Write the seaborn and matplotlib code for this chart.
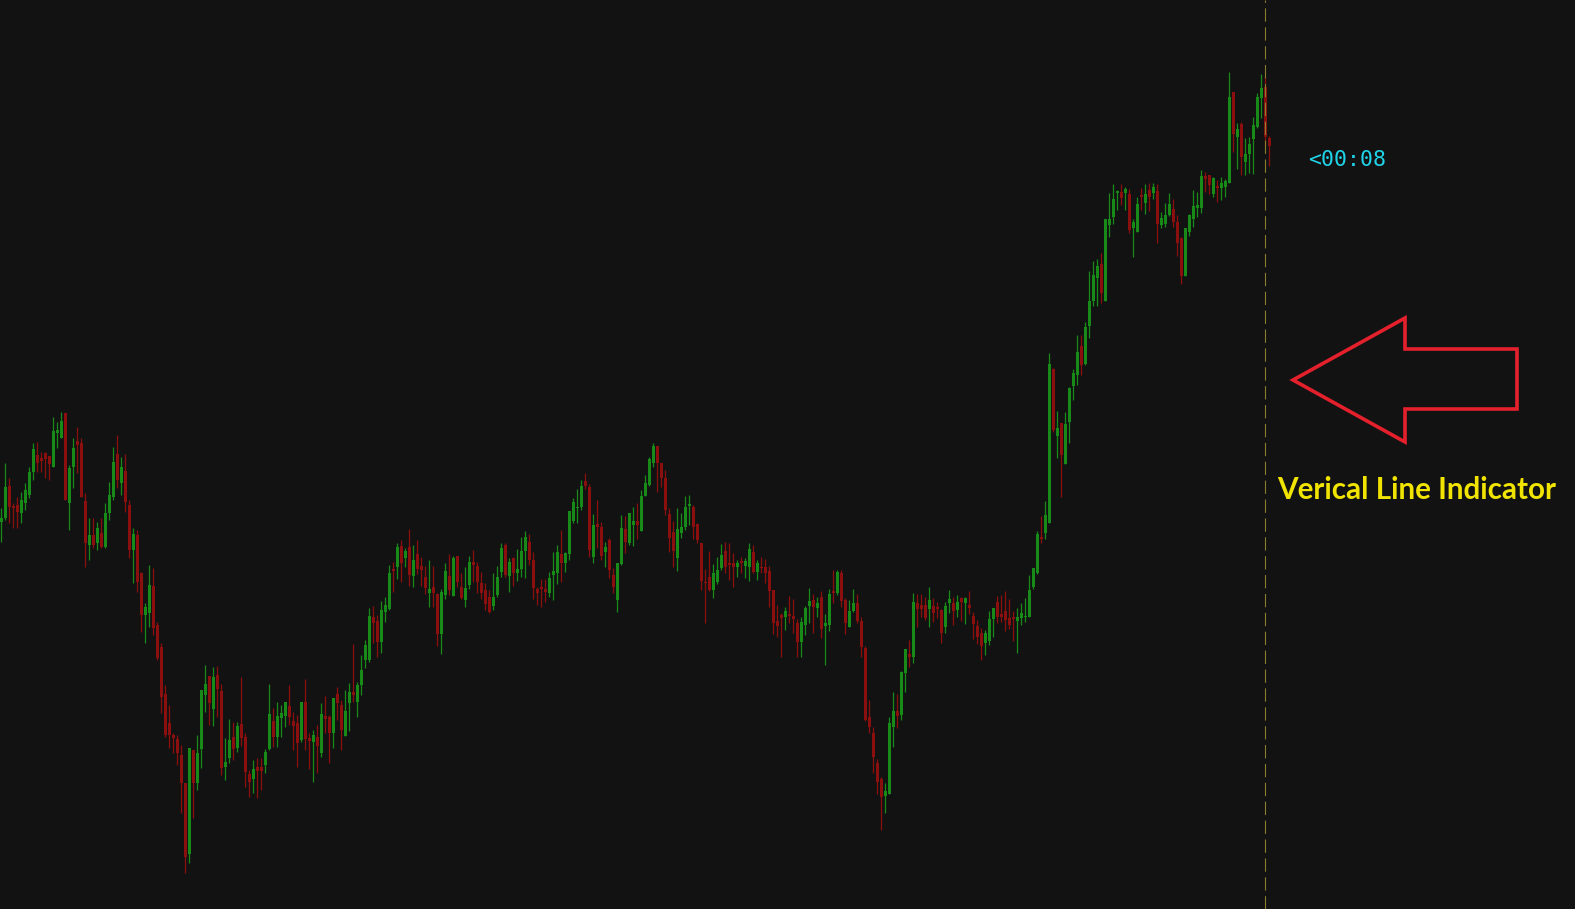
import numpy as np
import pandas as pd
import matplotlib
matplotlib.use("Agg")
import matplotlib.pyplot as plt
from matplotlib.patches import Polygon
import seaborn as sns

# candle data (price levels in chart units, top = high)
opens = [
    522, 518, 486, 506, 505, 513, 503, 495, 472, 455, 458, 453, 456, 467, 433, 438, 413, 503, 467, 441,
    443, 501, 545, 535, 543, 533, 547, 513, 497, 454, 483, 471, 505, 550, 535, 573, 615, 613, 586, 625,
    647, 694, 723, 735, 739, 755, 783, 854, 750, 783, 749, 695, 676, 709, 675, 691, 767, 758, 737, 748,
    724, 737, 774, 779, 767, 767, 765, 749, 721, 737, 718, 716, 706, 721, 723, 740, 702, 738, 742, 737,
    753, 716, 717, 733, 694, 705, 736, 703, 692, 702, 685, 660, 660, 617, 621, 642, 612, 609, 569, 567,
    546, 558, 547, 576, 554, 566, 577, 593, 587, 594, 634, 595, 576, 596, 556, 587, 600, 585, 562, 566,
    583, 590, 597, 606, 595, 572, 545, 576, 558, 573, 569, 551, 542, 560, 589, 587, 589, 593, 575, 573,
    554, 563, 554, 521, 508, 507, 481, 487, 557, 524, 527, 552, 540, 575, 600, 564, 529, 543, 525, 521,
    531, 496, 485, 463, 446, 463, 478, 514, 532, 558, 533, 527, 506, 507, 524, 543, 582, 577, 590, 582,
    568, 551, 563, 563, 567, 561, 566, 567, 552, 572, 567, 567, 571, 590, 621, 615, 617, 614, 616, 623,
    642, 625, 606, 600, 608, 597, 626, 625, 591, 593, 573, 600, 627, 611, 603, 621, 648, 717, 733, 763,
    779, 796, 794, 727, 711, 715, 673, 654, 657, 603, 605, 605, 609, 606, 607, 610, 627, 603, 603, 610,
    598, 603, 605, 616, 626, 633, 643, 641, 619, 602, 614, 611, 618, 617, 621, 618, 617, 617, 587, 573,
    537, 533, 523, 369, 436, 423, 464, 422, 386, 375, 346, 364, 326, 301, 278, 264, 301, 225, 217, 193,
    192, 193, 194, 228, 232, 195, 203, 190, 193, 191, 225, 224, 215, 209, 222, 238, 276, 232, 219, 208,
    208, 176, 175, 194, 186, 188, 187, 183, 92, 137, 124, 162, 154, 139, 127, 98, 87, 138,
]
closes = [
    518, 487, 507, 508, 512, 500, 490, 472, 449, 463, 461, 459, 464, 431, 430, 421, 500, 468, 448, 445,
    497, 543, 535, 545, 528, 547, 513, 495, 462, 480, 467, 502, 550, 534, 582, 615, 607, 585, 628, 658,
    697, 735, 735, 738, 753, 783, 857, 748, 783, 753, 690, 684, 703, 677, 689, 768, 762, 740, 749, 726,
    738, 772, 782, 769, 771, 771, 752, 714, 737, 716, 713, 702, 717, 726, 743, 702, 739, 741, 735, 746,
    714, 719, 733, 698, 703, 730, 711, 692, 695, 685, 670, 645, 616, 623, 642, 610, 605, 573, 571, 547,
    563, 551, 575, 560, 569, 570, 588, 589, 593, 634, 592, 571, 590, 558, 582, 598, 588, 562, 565, 582,
    593, 604, 612, 597, 577, 548, 575, 562, 573, 569, 551, 537, 560, 588, 593, 589, 592, 578, 571, 552,
    563, 553, 511, 502, 507, 486, 486, 550, 525, 527, 556, 547, 570, 587, 563, 528, 542, 513, 521, 525,
    496, 483, 459, 446, 463, 478, 510, 538, 551, 529, 527, 507, 504, 527, 540, 581, 583, 590, 573, 570,
    555, 567, 565, 567, 563, 563, 561, 549, 572, 563, 568, 573, 591, 623, 626, 618, 611, 616, 619, 642,
    622, 608, 601, 607, 603, 629, 623, 594, 593, 572, 601, 623, 611, 603, 621, 647, 720, 727, 757, 782,
    797, 791, 723, 711, 716, 672, 649, 657, 602, 609, 609, 618, 600, 613, 609, 633, 606, 599, 611, 602,
    602, 598, 608, 624, 637, 646, 633, 619, 608, 617, 617, 620, 625, 619, 617, 613, 616, 590, 568, 534,
    539, 515, 364, 430, 428, 455, 424, 388, 373, 352, 365, 327, 301, 275, 266, 293, 219, 219, 199, 191,
    198, 189, 230, 222, 204, 197, 194, 197, 187, 224, 218, 215, 204, 222, 243, 276, 228, 215, 206, 205,
    176, 179, 185, 178, 188, 183, 181, 97, 134, 129, 157, 154, 144, 125, 97, 88, 137, 146,
]
highs = [
    508, 463, 478, 503, 497, 492, 483, 467, 443, 442, 452, 452, 456, 417, 422, 412, 413, 465, 438, 427,
    438, 493, 518, 518, 522, 518, 503, 482, 447, 435, 457, 454, 500, 528, 530, 572, 603, 565, 568, 622,
    643, 685, 705, 733, 735, 745, 783, 748, 750, 735, 690, 665, 676, 667, 666, 684, 738, 719, 722, 722,
    677, 733, 770, 760, 758, 758, 749, 684, 708, 702, 705, 702, 685, 712, 715, 702, 679, 733, 730, 725,
    703, 696, 715, 698, 687, 700, 690, 683, 644, 682, 655, 640, 608, 606, 615, 601, 597, 565, 562, 543,
    540, 548, 529, 545, 540, 557, 566, 560, 566, 593, 589, 563, 554, 556, 556, 573, 567, 556, 550, 562,
    572, 583, 590, 573, 566, 543, 543, 558, 557, 549, 537, 531, 534, 552, 587, 579, 579, 572, 552, 545,
    530, 552, 511, 498, 489, 480, 473, 484, 514, 500, 522, 542, 538, 568, 563, 515, 516, 513, 507, 503,
    490, 475, 457, 443, 446, 463, 470, 508, 521, 508, 513, 496, 495, 505, 523, 543, 569, 551, 564, 557,
    544, 542, 543, 553, 560, 557, 558, 543, 545, 560, 557, 559, 566, 590, 605, 613, 607, 596, 599, 619,
    617, 606, 588, 594, 597, 591, 614, 589, 570, 570, 570, 598, 600, 589, 594, 617, 646, 700, 727, 759,
    777, 783, 717, 692, 694, 671, 649, 640, 593, 594, 594, 597, 587, 598, 602, 609, 602, 590, 597, 595,
    597, 597, 591, 612, 620, 628, 630, 611, 608, 596, 595, 591, 599, 611, 608, 603, 598, 575, 568, 531,
    516, 501, 353, 368, 411, 423, 412, 387, 369, 335, 335, 322, 271, 261, 259, 253, 219, 193, 184, 190,
    184, 187, 189, 219, 197, 188, 184, 183, 183, 184, 212, 203, 193, 199, 215, 237, 228, 214, 190, 192,
    170, 172, 175, 177, 180, 177, 179, 72, 92, 123, 122, 138, 137, 117, 93, 74, 77, 136,
]
lows = [
    542, 520, 523, 528, 528, 523, 510, 498, 480, 472, 472, 478, 480, 467, 448, 438, 500, 530, 488, 473,
    497, 567, 560, 548, 550, 548, 548, 520, 500, 488, 495, 512, 558, 583, 592, 632, 643, 627, 635, 660,
    713, 737, 748, 753, 765, 813, 873, 863, 818, 790, 768, 712, 725, 726, 717, 775, 780, 763, 760, 752,
    746, 787, 797, 793, 798, 790, 773, 750, 747, 747, 737, 727, 725, 750, 767, 742, 750, 769, 782, 773,
    757, 733, 763, 748, 720, 750, 736, 731, 702, 717, 695, 668, 662, 643, 657, 653, 622, 610, 592, 579,
    582, 567, 586, 587, 574, 586, 594, 607, 607, 646, 654, 599, 595, 596, 587, 599, 607, 589, 582, 593,
    599, 610, 613, 610, 597, 577, 577, 592, 586, 581, 577, 578, 565, 599, 605, 607, 602, 597, 600, 584,
    582, 572, 560, 523, 523, 510, 489, 557, 563, 548, 560, 567, 578, 593, 612, 565, 553, 545, 546, 539,
    531, 496, 486, 467, 492, 487, 515, 552, 567, 571, 538, 530, 525, 539, 543, 590, 623, 591, 598, 584,
    570, 573, 580, 587, 577, 573, 578, 581, 573, 580, 573, 583, 607, 634, 637, 657, 630, 623, 633, 657,
    657, 635, 623, 633, 617, 638, 665, 631, 603, 595, 607, 634, 627, 612, 623, 657, 721, 733, 773, 794,
    830, 813, 794, 747, 728, 720, 692, 667, 663, 627, 617, 620, 627, 622, 618, 643, 633, 613, 625, 617,
    621, 624, 614, 639, 644, 660, 655, 645, 637, 623, 622, 631, 629, 641, 653, 625, 622, 617, 589, 574,
    543, 539, 523, 432, 458, 497, 464, 443, 400, 385, 375, 365, 338, 306, 306, 303, 301, 237, 224, 210,
    205, 210, 233, 257, 232, 210, 214, 211, 199, 243, 228, 227, 216, 227, 256, 284, 276, 236, 227, 217,
    213, 192, 194, 197, 202, 200, 197, 183, 152, 169, 175, 175, 173, 174, 128, 118, 147, 166,
]
current_bar = 316
timer_text = "<00:08"
label_text = "Verical Line Indicator"

bg = "#121212"
up_color = "#178a17"
down_color = "#8c0f0f"

df = pd.DataFrame({"open": opens, "close": closes, "high": highs, "low": lows})
df["bar"] = np.arange(len(df))
df["up"] = df["close"] < df["open"]  # chart units grow downward
df["body_top"] = df[["open", "close"]].min(axis=1)
df["body_h"] = (df["open"] - df["close"]).abs().clip(lower=1)
df["color"] = np.where(df["up"], up_color, down_color)

sns.set_theme(style="dark", rc={"axes.facecolor": bg, "figure.facecolor": bg,
                                "savefig.facecolor": bg})

W, H = 1575, 909
fig = plt.figure(figsize=(W / 100, H / 100), dpi=100)
ax = fig.add_axes([0, 0, 1, 1])
ax.set_facecolor(bg)

# wicks and bodies
ax.vlines(df["bar"], df["high"], df["low"], colors=df["color"], linewidth=0.9)
ax.bar(df["bar"], df["body_h"], bottom=df["body_top"], width=0.72,
       color=df["color"], linewidth=0)

# vertical line indicator on the current bar
ax.axvline(current_bar, color="#8a7d2c", linewidth=0.8, linestyle=(0, (12, 5)))

ax.set_xlim(-0.33, 393.4)
ax.set_ylim(H, 0)
ax.axis("off")

# timer label
fig.text(1308 / W, 1 - 160 / H, timer_text, color="#1fd4e8", fontsize=15.5,
         family="DejaVu Sans Mono", ha="left", va="center")

# red outline arrow pointing at the line
arrow_px = [(1293, 380), (1405, 318), (1405, 349), (1517, 349),
            (1517, 409), (1405, 409), (1405, 442)]
arrow = Polygon([(x / W, 1 - y / H) for x, y in arrow_px], closed=True,
                fill=False, edgecolor="#e3202b", linewidth=2.6,
                joinstyle="miter", transform=fig.transFigure)
fig.add_artist(arrow)

fig.text(1277 / W, 1 - 490 / H, label_text, color="#f0e400", fontsize=21.3,
         fontweight="bold", family="Lato", ha="left", va="center")

fig.savefig("out.png", dpi=100, facecolor=bg)
